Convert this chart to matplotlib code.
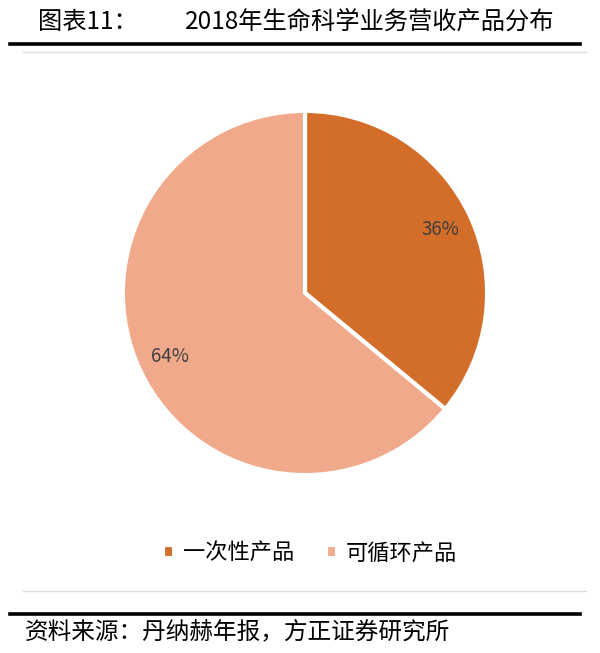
import matplotlib.pyplot as plt
from matplotlib.lines import Line2D

plt.rcParams['font.family'] = ['Noto Sans CJK SC', 'DejaVu Sans']

categories = ['一次性产品', '可循环产品']
shares = [36, 64]
colors = ['#D36E2A', '#F0A98A']

title_num = '图表11：'
title = '2018年生命科学业务营收产品分布'
source = '资料来源：丹纳赫年报，方正证券研究所'

fig = plt.figure(figsize=(6, 6.53), dpi=100)
W, H = 600, 653

# pie axes: centre (305, 293), radius ~182 px
r = 183
ax = fig.add_axes([(305 - r) / W, 1 - (293 + r) / H, 2 * r / W, 2 * r / H])
wedges, texts, autotexts = ax.pie(
    shares, colors=colors, startangle=90, counterclock=False,
    autopct='%d%%', pctdistance=0.82,
    wedgeprops=dict(edgecolor='white', linewidth=3),
    textprops=dict(color='#404040', fontsize=13.5))
ax.set_xlim(-1.005, 1.005)
ax.set_ylim(-1.005, 1.005)
ax.set_aspect('equal')

# legend
fig.legend(wedges, categories, loc='center', bbox_to_anchor=(310 / W, 1 - 553 / H),
           ncol=2, frameon=False, fontsize=16, handlelength=0.5, handleheight=0.5,
           handletextpad=0.4, columnspacing=1.4)

# title and rules
fig.text(38 / W, 1 - 22 / H, title_num, fontsize=17.5, va='center', ha='left')
fig.text(185 / W, 1 - 22 / H, title, fontsize=17.5, va='center', ha='left')
fig.add_artist(Line2D([10 / W, 580 / W], [1 - 43.5 / H] * 2, color='black', lw=2.6))
fig.add_artist(Line2D([23 / W, 586 / W], [1 - 52.3 / H] * 2, color='#DDDDDD', lw=1.0))
fig.add_artist(Line2D([23 / W, 586 / W], [1 - 591 / H] * 2, color='#DDDDDD', lw=1.0))
fig.add_artist(Line2D([10 / W, 580 / W], [1 - 613.5 / H] * 2, color='black', lw=2.6))
fig.text(25 / W, 1 - 632 / H, source, fontsize=17, style='italic', va='center', ha='left')

fig.savefig('out.png', dpi=100)
